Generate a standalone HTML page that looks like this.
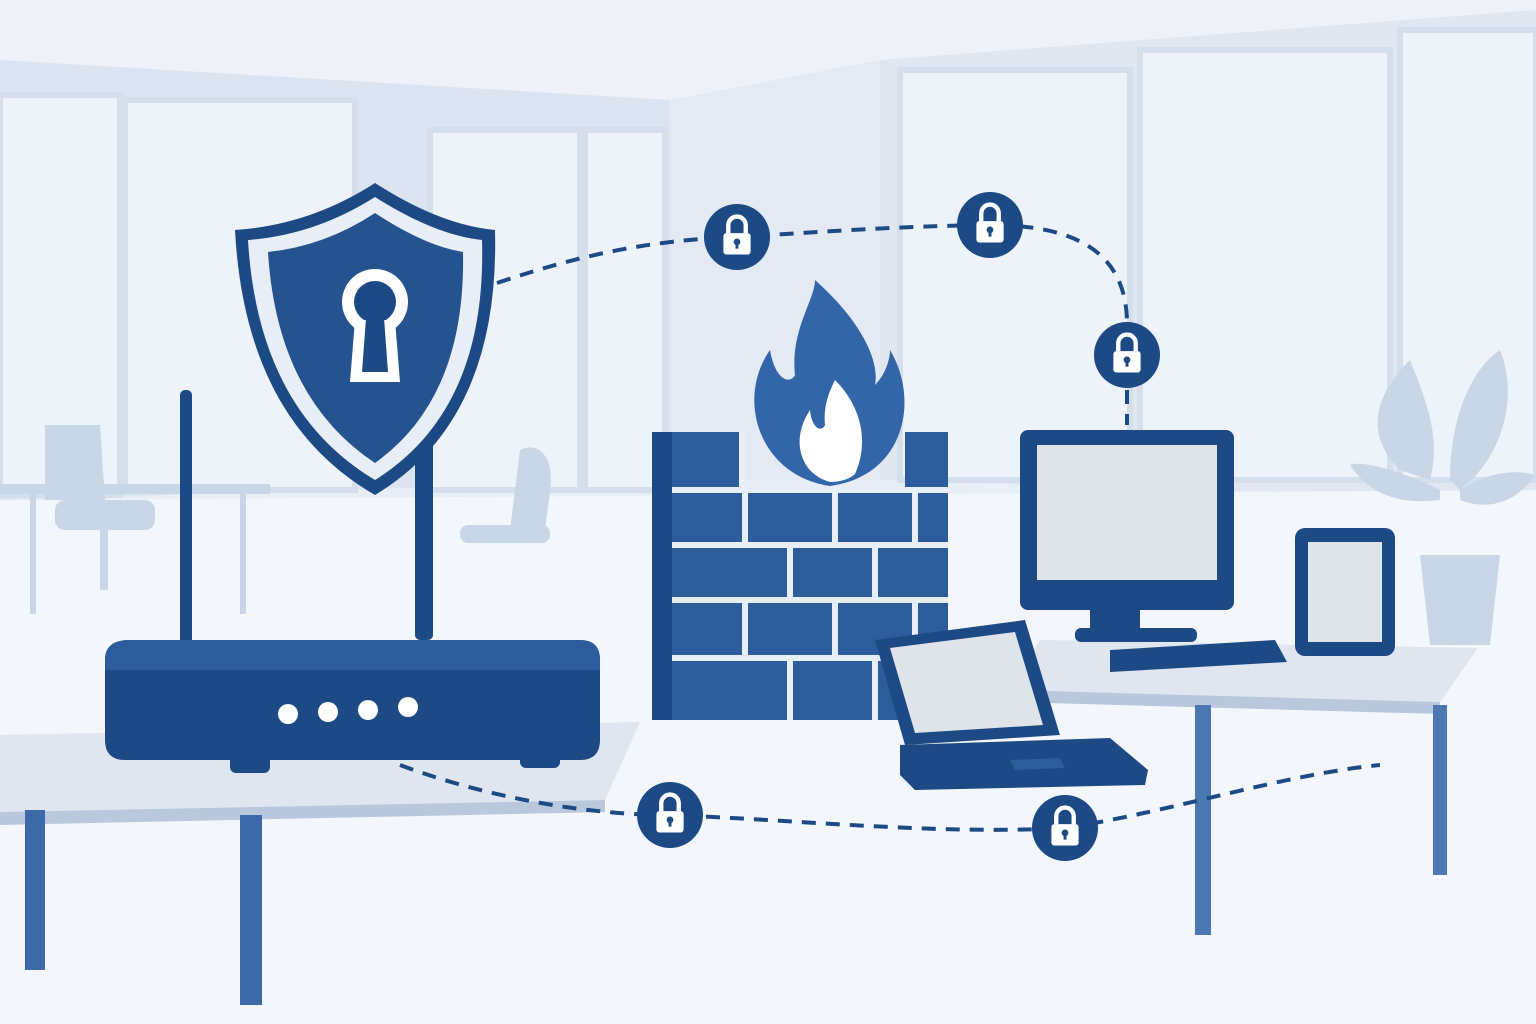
<!DOCTYPE html>
<html><head><meta charset="utf-8"><style>
html,body{margin:0;padding:0;width:1536px;height:1024px;overflow:hidden;background:#eef2f8}
svg{display:block}
</style></head><body>
<svg width="1536" height="1024" viewBox="0 0 1536 1024" xmlns="http://www.w3.org/2000/svg">
<defs>
<linearGradient id="bg" x1="0" y1="0" x2="0" y2="1">
<stop offset="0" stop-color="#e2e9f3"/><stop offset="0.6" stop-color="#eaeff6"/><stop offset="1" stop-color="#f4f7fb"/>
</linearGradient>
<symbol id="lock" viewBox="-35 -35 70 70">
<circle r="34" fill="#1d4a85"/>
<path d="M-9,-4 v-8 a9,9 0 0 1 18,0 v8" fill="none" stroke="#fff" stroke-width="4.5"/>
<rect x="-14" y="-4" width="28" height="22" rx="3" fill="#fff"/>
<circle cy="5" r="3.5" fill="#1d4a85"/><rect x="-1.5" y="5" width="3" height="7" fill="#1d4a85"/>
</symbol>
</defs>
<rect width="1536" height="1024" fill="url(#bg)"/>
<polygon points="0,0 1536,0 1536,10 880,60 670,100 0,60" fill="#eef2f8"/>
<polygon points="0,60 670,100 670,480 0,500" fill="#dce4f0"/>
<polygon points="670,100 880,60 880,480 670,480" fill="#e4eaf3"/>
<polygon points="880,60 1536,10 1536,500 880,480" fill="#e0e7f1"/>
<g fill="#eef3f9" stroke="#d5deeb" stroke-width="6">
<rect x="0" y="95" width="120" height="400"/><rect x="125" y="100" width="230" height="390"/>
<rect x="430" y="130" width="150" height="360"/><rect x="585" y="130" width="80" height="360"/>
<rect x="900" y="70" width="230" height="410"/><rect x="1140" y="50" width="250" height="430"/><rect x="1400" y="30" width="136" height="450"/>
</g>
<polygon points="0,500 1536,490 1536,1024 0,1024" fill="#f3f6fa"/>
<g fill="#c9d6e8">
<rect x="0" y="484" width="270" height="10"/><rect x="30" y="494" width="6" height="120"/><rect x="240" y="494" width="6" height="120"/>
<path d="M45,425 h55 l5,75 h-60z"/><rect x="55" y="500" width="100" height="30" rx="10"/><rect x="100" y="530" width="8" height="60"/>
<path d="M520,450 c20,-10 35,10 30,40 l-5,40 h-35z"/><rect x="460" y="525" width="90" height="18" rx="8"/>
<path d="M1400,470 c-40,-40 -20,-80 10,-110 c20,50 30,80 20,120z M1450,480 c0,-60 20,-110 50,-130 c20,50 0,110 -40,140z M1440,490 c-40,-20 -80,-30 -90,-25 c20,30 50,40 90,35z M1460,490 c30,-20 60,-20 75,-15 c-20,30 -50,35 -75,25z"/>
<polygon points="1420,555 1500,555 1490,645 1430,645"/>
</g>
<polygon points="0,735 640,722 605,800 0,812" fill="#dfe6f0"/>
<polygon points="0,812 605,800 605,812 0,825" fill="#b9c8dd"/>
<rect x="25" y="810" width="20" height="160" fill="#3c6aa8"/>
<rect x="240" y="815" width="22" height="190" fill="#3c6aa8"/>
<polygon points="1040,640 1478,648 1440,702 1010,690" fill="#dfe6f0"/>
<polygon points="1010,690 1440,702 1440,714 1010,702" fill="#b9c8dd"/>
<rect x="1195" y="705" width="16" height="230" fill="#4c78b2"/>
<rect x="1433" y="705" width="14" height="170" fill="#4c78b2"/>
<rect x="180" y="390" width="12" height="260" rx="5" fill="#1d4a85"/>
<rect x="415" y="390" width="18" height="250" rx="5" fill="#1d4a85"/>
<path d="M130,640 h450 q20,0 20,20 v80 q0,20 -20,20 h-455 q-20,0 -20,-20 v-80 q0,-20 25,-20z" fill="#1d4a85"/>
<path d="M105,660 q0,-20 25,-20 h450 q20,0 20,20 v10 h-495z" fill="#2c5c9c"/>
<rect x="230" y="755" width="40" height="18" rx="6" fill="#1d4a85"/><rect x="520" y="752" width="40" height="16" rx="6" fill="#1d4a85"/>
<g fill="#fff"><circle cx="288" cy="714" r="10"/><circle cx="328" cy="712" r="10"/><circle cx="368" cy="710" r="10"/><circle cx="408" cy="707" r="10"/></g>
<path d="M235,230 Q310,225 375,183 Q440,225 495,230 Q500,420 375,495 Q245,420 235,230z" fill="#1d4a85"/>
<path d="M248,240 Q315,235 375,197 Q435,235 482,240 Q487,410 375,480 Q258,410 248,240z" fill="#e8eef6"/>
<path d="M268,252 Q325,246 375,213 Q425,246 463,252 Q466,398 375,463 Q277,398 268,252z" fill="#24538f"/>
<circle cx="375" cy="302" r="33" fill="#fff"/><circle cx="375" cy="302" r="21" fill="#1d4a85"/>
<polygon points="355,320 395,320 400,382 350,382" fill="#fff"/><polygon points="366,318 384,318 388,372 362,372" fill="#1d4a85"/>
<!-- firewall -->
<g>
<path d="M652,432 H745 V490 H905 V432 H948 V720 H652z" fill="#2c5c9c"/>
<path d="M652,432 h20 v288 h-20z" fill="#1d4a85"/>
<g stroke="#e8eef6" stroke-width="6" fill="none">
<path d="M672,490 H948 M672,545 H948 M672,600 H948 M672,658 H948"/>
<path d="M745,490 V545 M835,490 V545 M915,490 V545"/>
<path d="M790,545 V600 M875,545 V600"/>
<path d="M745,600 V658 M835,600 V658 M915,600 V658"/>
<path d="M790,658 V720 M875,658 V720"/>
<path d="M742,432 V490"/>
</g>
</g>
<path d="M830,486 C760,476 735,400 770,350 C775,380 790,385 795,375 C790,330 815,300 815,280 C860,320 880,360 875,385 C885,375 890,360 890,350 C920,400 905,476 830,486z" fill="#3366a8"/>
<path d="M830,482 C800,474 790,440 810,410 C812,430 822,432 825,425 C823,405 830,390 835,380 C860,405 870,440 855,474 C850,479 840,482 830,482z" fill="#fff"/>
<rect x="1090" y="610" width="50" height="25" fill="#1d4a85"/>
<rect x="1075" y="628" width="122" height="14" rx="6" fill="#1d4a85"/>
<rect x="1020" y="430" width="214" height="180" rx="8" fill="#1d4a85"/>
<rect x="1037" y="445" width="180" height="135" fill="#dfe4ea"/>
<polygon points="1110,650 1275,640 1287,662 1110,672" fill="#1d4a85"/>
<rect x="1295" y="528" width="100" height="128" rx="10" fill="#1d4a85"/>
<rect x="1308" y="542" width="74" height="100" fill="#dfe4ea"/>
<polygon points="875,640 1025,620 1060,735 905,745" fill="#1d4a85"/>
<polygon points="890,648 1015,632 1043,725 915,733" fill="#dfe4ea"/>
<polygon points="900,745 1110,738 1148,770 1145,785 915,790 900,775" fill="#1d4a85"/>
<polygon points="1010,760 1060,758 1065,768 1015,770" fill="#2c5c9c"/>
<g fill="none" stroke="#1d4a85" stroke-width="4" stroke-dasharray="14,10">
<path d="M497,283 C580,255 650,240 737,237 C820,232 900,226 990,225 C1080,225 1125,255 1127,320"/>
<path d="M1127,390 V425"/>
<path d="M400,765 C480,795 580,815 670,815 C800,820 940,835 1065,828 C1180,810 1280,775 1380,765"/>
</g>
<use href="#lock" x="703" y="203" width="68" height="68"/>
<use href="#lock" x="956" y="191" width="68" height="68"/>
<use href="#lock" x="1093" y="321" width="68" height="68"/>
<use href="#lock" x="636" y="781" width="68" height="68"/>
<use href="#lock" x="1031" y="794" width="68" height="68"/>
</svg>
</body></html>
